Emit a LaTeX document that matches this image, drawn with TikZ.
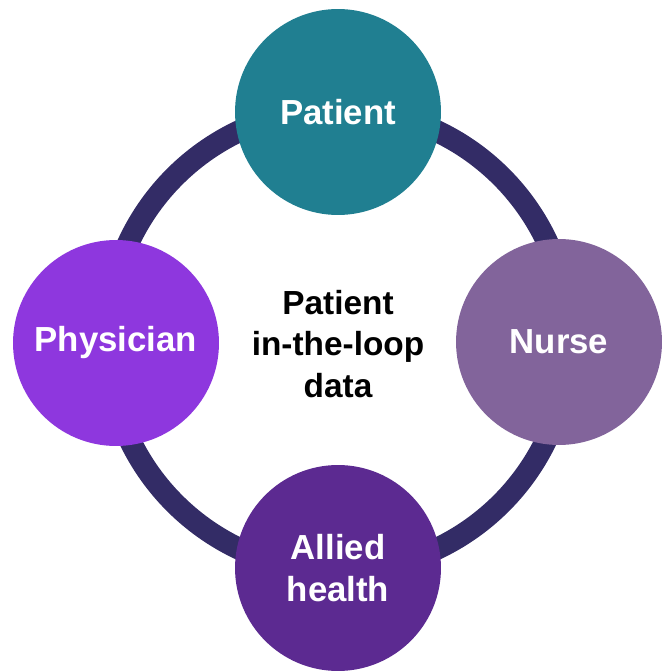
\documentclass[tikz,border=0pt]{standalone}
\usepackage{fontspec}
\setmainfont{Liberation Sans}
\usetikzlibrary{positioning}
\definecolor{RingNavy}{HTML}{332C66}
\definecolor{PatientTeal}{HTML}{207F91}
\definecolor{NurseMauve}{HTML}{82649B}
\definecolor{PhysicianViolet}{HTML}{8E37DE}
\definecolor{AlliedPurple}{HTML}{5C2A91}

\begin{document}
\begin{tikzpicture}[
    x=0.02cm, y=-0.02cm,
    font=\bfseries\fontsize{19}{23.8}\selectfont,
    role/.style={circle, minimum size=4.12cm, inner sep=0pt, align=center, text=white,
        font=\bfseries\fontsize{19.8}{23.8}\selectfont},
    ring/.style={draw=RingNavy, line width=0.44cm}
]
    \useasboundingbox (0,0) rectangle (663,671);

    % Loop and centre text
    \node[align=center] (hub) at (338,344) {Patient\\in-the-loop\\data};
    \draw[ring] (338,340) circle[radius=4.62cm];

    % Roles around the loop
    \node[role, fill=PatientTeal] (patient) at (338,112) {Patient};
    \node[role, fill=NurseMauve] (nurse) at (559,342) {Nurse};
    \node[role, fill=AlliedPurple] (allied) at (338,568) {Allied\\health};
    \node[role, fill=PhysicianViolet] (physician) at (116,343) {Physician};
\end{tikzpicture}
\end{document}
